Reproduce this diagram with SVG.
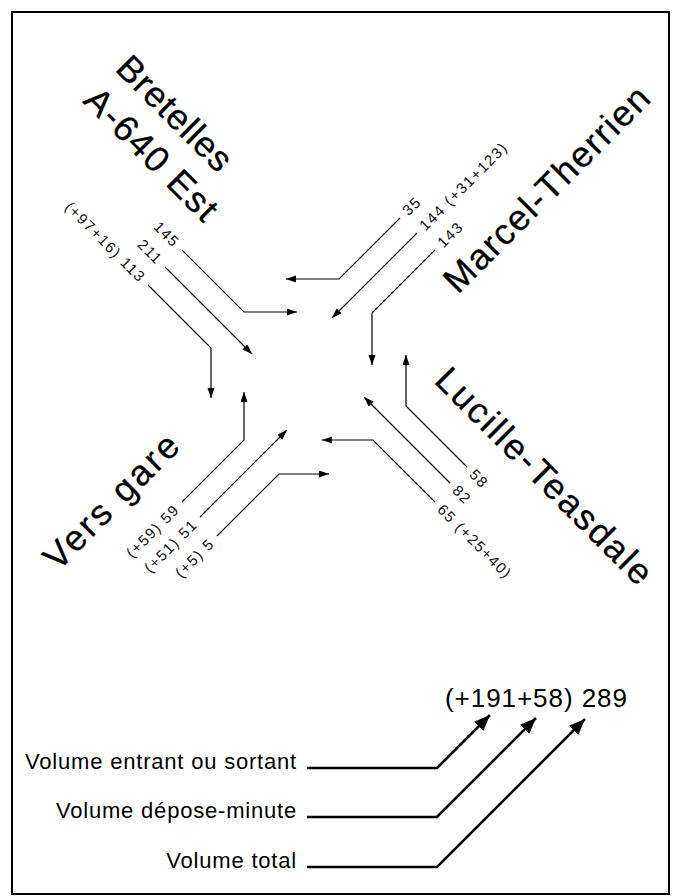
<svg xmlns="http://www.w3.org/2000/svg" width="681" height="896" viewBox="0 0 681 896">
<defs>
<marker id="ah" markerUnits="userSpaceOnUse" markerWidth="11" markerHeight="8" refX="10" refY="3.5" orient="auto"><path d="M0,0 L10,3.5 L0,7 z" fill="#000"/></marker>
<marker id="ahL" markerUnits="userSpaceOnUse" markerWidth="18" markerHeight="14" refX="16" refY="6.5" orient="auto"><path d="M0,0 L16,6.5 L0,13 z" fill="#000"/></marker>
</defs>
<style>
.c{fill:none;stroke:#000;stroke-width:1.2;marker-end:url(#ah)}
.lg{fill:none;stroke:#000;stroke-width:2.6;marker-end:url(#ahL)}
.big{font-family:"Liberation Sans",Arial,sans-serif;font-size:36px;fill:#000;stroke:#000;stroke-width:0.3}
.sm{font-family:"Liberation Sans",Arial,sans-serif;font-size:15px;fill:#111;letter-spacing:1.5px}
.leg{font-family:"Liberation Sans",Arial,sans-serif;font-size:22px;fill:#000;letter-spacing:0.8px}
</style>
<rect x="12" y="12" width="657" height="882" fill="#fff" stroke="#000" stroke-width="2"/>

<g id="connectors">
<polyline class="c" points="182,250 244,312 297,312"/>
<polyline class="c" points="165,267 252,354"/>
<polyline class="c" points="148,285 211,348 211,398"/>
<polyline class="c" points="400,218 339,279 286,279"/>
<polyline class="c" points="417,233 332,318"/>
<polyline class="c" points="435,250 372,313 372,365"/>
<polyline class="c" points="467,467 406,406 406,355"/>
<polyline class="c" points="450,483 364,397"/>
<polyline class="c" points="435,502 373,440 322,440"/>
<polyline class="c" points="182,502 244,440 244,392"/>
<polyline class="c" points="200,517 287,430"/>
<polyline class="c" points="217,536 279,474 329,474"/>
</g>

<g id="node-bretelles">
<text class="big" transform="translate(114,70) rotate(45)" textLength="147" lengthAdjust="spacing">Bretelles</text>
<text class="big" transform="translate(82,102) rotate(45)" textLength="172" lengthAdjust="spacing">A-640 Est</text>
<text class="sm" transform="translate(182,250) rotate(45)" x="-7" y="5" text-anchor="end">145</text>
<text class="sm" transform="translate(165,267) rotate(45)" x="-7" y="5" text-anchor="end">211</text>
<text class="sm" transform="translate(148,285) rotate(45)" x="-7" y="5" text-anchor="end">(+97+16) 113</text>
</g>

<g id="node-marcel-therrien">
<text class="big" transform="translate(458,295) rotate(-45)" textLength="275" lengthAdjust="spacing">Marcel-Therrien</text>
<text class="sm" transform="translate(400,218) rotate(-45)" x="7" y="5">35</text>
<text class="sm" transform="translate(417,233) rotate(-45)" x="7" y="5">144 (+31+123)</text>
<text class="sm" transform="translate(435,250) rotate(-45)" x="7" y="5">143</text>
</g>

<g id="node-lucille-teasdale">
<text class="big" transform="translate(433,382) rotate(45)" textLength="290" lengthAdjust="spacing">Lucille-Teasdale</text>
<text class="sm" transform="translate(467,467) rotate(45)" x="7" y="5">58</text>
<text class="sm" transform="translate(450,483) rotate(45)" x="7" y="5">82</text>
<text class="sm" transform="translate(435,502) rotate(45)" x="7" y="5">65 (+25+40)</text>
</g>

<g id="node-vers-gare">
<text class="big" transform="translate(58,572) rotate(-45)" textLength="175" lengthAdjust="spacing">Vers gare</text>
<text class="sm" transform="translate(182,502) rotate(-45)" x="-7" y="5" text-anchor="end">(+59) 59</text>
<text class="sm" transform="translate(200,517) rotate(-45)" x="-7" y="5" text-anchor="end">(+51) 51</text>
<text class="sm" transform="translate(217,536) rotate(-45)" x="-7" y="5" text-anchor="end">(+5) 5</text>
</g>

<g id="legend">
<text class="leg" x="445" y="707" style="font-size:26px;letter-spacing:0" textLength="182" lengthAdjust="spacing">(+191+58) 289</text>
<text class="leg" x="297" y="769" text-anchor="end">Volume entrant ou sortant</text>
<text class="leg" x="297" y="818" text-anchor="end">Volume dépose-minute</text>
<text class="leg" x="297" y="868" text-anchor="end">Volume total</text>
<polyline class="lg" points="307,768 437,768 490,715"/>
<polyline class="lg" points="307,817 437,817 536,718"/>
<polyline class="lg" points="307,867 437,867 585,719"/>
</g>
</svg>
